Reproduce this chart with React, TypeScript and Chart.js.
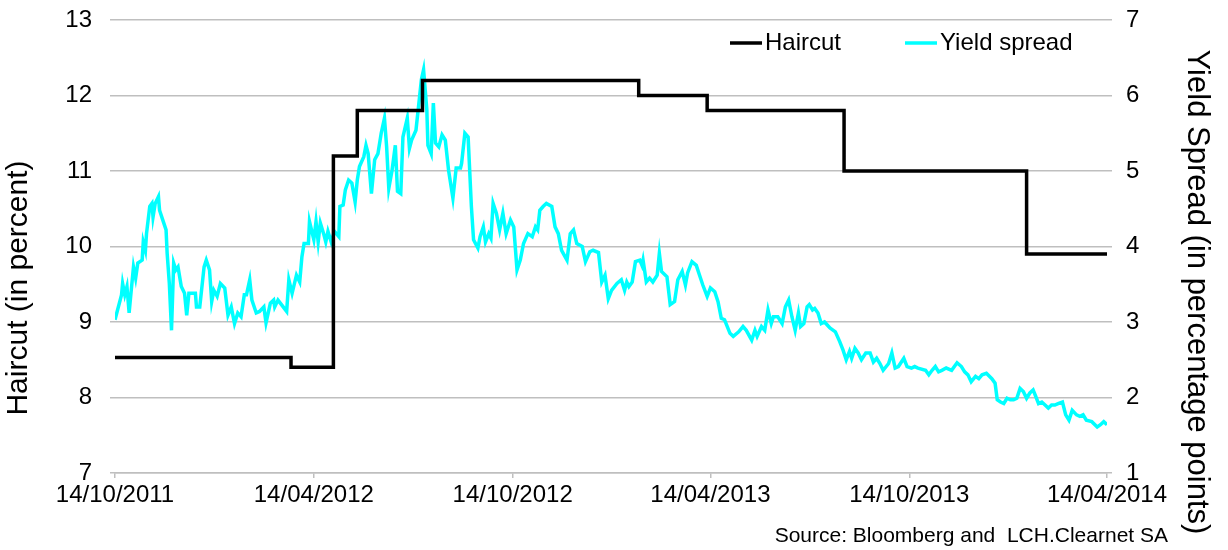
import React, { useEffect, useRef } from 'react';
import { Chart, registerables } from 'chart.js';

Chart.register(...registerables);

const FONT = '"Liberation Sans", Arial, Helvetica, sans-serif';

// x values: days since 14/10/2011
const tickDays = [0, 183, 366, 548, 731, 913];
const tickLabels = ['14/10/2011', '14/04/2012', '14/10/2012', '14/04/2013', '14/10/2013', '14/04/2014'];

const haircutDays = [0, 162, 201, 223, 283, 482, 545, 671, 839, 913];
const haircutValues = [8.53, 8.4, 11.2, 11.8, 12.2, 12.0, 11.8, 11.0, 9.9, 9.9];

const spreadDays = [
  0, 6, 7, 9, 11, 13, 17, 19, 21, 25,
  26, 28, 29, 32, 34, 35, 37, 40, 41, 44,
  47, 48, 50, 52, 54, 56, 58, 61, 64, 66,
  68, 74, 75, 78, 82, 84, 87, 89, 91, 94,
  97, 101, 104, 107, 110, 113, 116, 119, 121, 124,
  126, 130, 133, 137, 139, 143, 146, 147, 150, 158,
  160, 163, 167, 170, 172, 174, 178, 179, 183, 185,
  187, 189, 192, 194, 196, 199, 202, 206, 207, 210,
  212, 215, 218, 221, 223, 225, 229, 231, 233, 236,
  239, 242, 245, 248, 250, 252, 255, 258, 260, 263,
  265, 269, 271, 273, 277, 280, 282, 284, 287, 288,
  291, 293, 295, 298, 301, 304, 307, 311, 314, 318,
  319, 322, 325, 328, 330, 334, 336, 339, 341, 344,
  346, 348, 351, 354, 357, 360, 364, 367, 370, 373,
  376, 380, 384, 387, 389, 391, 394, 397, 402, 405,
  408, 411, 416, 419, 422, 425, 430, 433, 437, 440,
  445, 448, 451, 454, 457, 462, 466, 469, 471, 473,
  476, 479, 483, 485, 486, 489, 492, 495, 499, 501,
  503, 508, 511, 515, 518, 522, 525, 527, 531, 535,
  538, 541, 545, 548, 552, 555, 558, 561, 566, 569,
  574, 578, 581, 586, 589, 591, 595, 598, 601, 604,
  606, 610, 614, 617, 620, 623, 626, 629, 631, 634,
  637, 639, 642, 644, 647, 650, 653, 658, 663, 667,
  670, 673, 676, 678, 681, 684, 687, 691, 695, 698,
  701, 704, 707, 712, 715, 718, 721, 726, 729, 733,
  736, 739, 746, 749, 752, 755, 758, 761, 765, 770,
  775, 779, 782, 785, 788, 792, 795, 798, 802, 807,
  810, 812, 815, 818, 821, 824, 827, 830, 833, 836,
  839, 842, 845, 847, 850, 853, 856, 859, 862, 865,
  868, 872, 875, 878, 881, 885, 888, 891, 894, 899,
  904, 907, 910, 913,
];

const spreadValues = [
  3.03, 3.36, 3.51, 3.36, 3.47, 3.12, 3.73, 3.58, 3.78, 3.82,
  4.06, 3.95, 4.17, 4.53, 4.57, 4.39, 4.57, 4.66, 4.48, 4.35,
  4.22, 3.91, 3.51, 2.89, 3.78, 3.69, 3.73, 3.47, 3.38, 3.09,
  3.38, 3.38, 3.20, 3.20, 3.73, 3.82, 3.69, 3.27, 3.42, 3.34,
  3.51, 3.45, 3.09, 3.20, 2.98, 3.12, 3.07, 3.36, 3.36, 3.56,
  3.29, 3.12, 3.14, 3.20, 2.99, 3.25, 3.29, 3.20, 3.29, 3.14,
  3.56, 3.38, 3.62, 3.53, 3.86, 4.04, 4.04, 4.33, 4.09, 4.33,
  4.06, 4.31, 4.17, 4.06, 4.20, 4.06, 4.20, 4.13, 4.53, 4.55,
  4.75, 4.88, 4.84, 4.59, 4.88, 5.06, 5.19, 5.34, 5.23, 4.70,
  5.15, 5.23, 5.50, 5.70, 5.32, 4.77, 5.01, 5.34, 4.73, 4.70,
  5.45, 5.70, 5.30, 5.41, 5.54, 5.94, 6.21, 6.34, 5.81, 5.34,
  5.23, 5.90, 5.37, 5.32, 5.48, 5.41, 5.01, 4.64, 5.04, 5.04,
  5.10, 5.50, 5.45, 4.53, 4.09, 3.98, 4.13, 4.26, 4.06, 4.17,
  4.11, 4.57, 4.44, 4.22, 4.44, 4.17, 4.35, 4.26, 3.69, 3.82,
  4.04, 4.17, 4.13, 4.26, 4.22, 4.48, 4.53, 4.57, 4.53, 4.26,
  4.17, 3.95, 3.82, 4.17, 4.22, 4.04, 4.00, 3.80, 3.93, 3.95,
  3.92, 3.53, 3.62, 3.31, 3.42, 3.51, 3.56, 3.42, 3.53, 3.47,
  3.53, 3.80, 3.82, 3.75, 3.82, 3.53, 3.58, 3.53, 3.62, 3.91,
  3.67, 3.60, 3.23, 3.27, 3.56, 3.67, 3.49, 3.65, 3.80, 3.75,
  3.62, 3.49, 3.34, 3.45, 3.40, 3.27, 3.05, 3.03, 2.85, 2.81,
  2.87, 2.94, 2.89, 2.76, 2.89, 2.81, 2.94, 2.89, 3.16, 2.98,
  3.07, 3.07, 2.98, 3.20, 3.29, 3.07, 2.89, 3.12, 2.94, 2.98,
  3.20, 3.23, 3.16, 3.18, 3.12, 2.98, 3.00, 2.92, 2.87, 2.74,
  2.63, 2.50, 2.61, 2.52, 2.65, 2.59, 2.50, 2.59, 2.59, 2.47,
  2.52, 2.45, 2.36, 2.45, 2.59, 2.39, 2.41, 2.52, 2.41, 2.39,
  2.41, 2.39, 2.36, 2.30, 2.36, 2.41, 2.34, 2.36, 2.39, 2.36,
  2.46, 2.41, 2.34, 2.30, 2.21, 2.28, 2.25, 2.30, 2.32, 2.25,
  2.19, 1.97, 1.94, 1.92, 1.99, 1.97, 1.97, 1.99, 2.12, 2.08,
  1.99, 2.06, 2.10, 2.03, 1.92, 1.94, 1.90, 1.86, 1.90, 1.90,
  1.92, 1.94, 1.77, 1.70, 1.83, 1.77, 1.75, 1.77, 1.70, 1.68,
  1.61, 1.64, 1.68, 1.64,
];

const seriesNames = ['Haircut', 'Yield spread'];
const seriesColors = ['#000000', '#00FFFF'];
const leftTitle = 'Haircut (in percent)';
const rightTitle = 'Yield Spread (in percentage points)';
const sourceText = 'Source: Bloomberg and  LCH.Clearnet SA';

const GRID = '#bfbfbf';

const overlayPlugin = {
  id: 'overlay',
  afterDraw(chart: any) {
    const ctx = chart.ctx;
    ctx.save();
    // legend
    ctx.font = `24px ${FONT}`;
    ctx.textBaseline = 'middle';
    ctx.textAlign = 'left';
    const legendY = 43;
    const starts = [730, 905];
    chart.data.datasets.forEach((ds: any, i: number) => {
      const x0 = starts[i];
      ctx.strokeStyle = ds.borderColor;
      ctx.lineWidth = 3.5;
      ctx.beginPath();
      ctx.moveTo(x0, legendY);
      ctx.lineTo(x0 + 32, legendY);
      ctx.stroke();
      ctx.fillStyle = '#000';
      ctx.fillText(ds.label, x0 + 35, legendY);
    });
    // axis titles
    ctx.fillStyle = '#000';
    ctx.textAlign = 'center';
    ctx.textBaseline = 'middle';
    ctx.save();
    ctx.translate(19, 288);
    ctx.rotate(-Math.PI / 2);
    ctx.font = `30px ${FONT}`;
    ctx.fillText(leftTitle, 0, 0);
    ctx.restore();
    ctx.save();
    ctx.translate(1197, 292);
    ctx.rotate(Math.PI / 2);
    ctx.font = `31px ${FONT}`;
    ctx.fillText(rightTitle, 0, 0);
    ctx.restore();
    // source
    ctx.font = `21px ${FONT}`;
    ctx.textAlign = 'right';
    ctx.fillStyle = '#000';
    ctx.fillText(sourceText, 1168, 536);
    ctx.restore();
  },
};

export default function App() {
  const canvasRef = useRef<HTMLCanvasElement | null>(null);

  useEffect(() => {
    if (!canvasRef.current) return;
    const haircutData = haircutDays.map((d, i) => ({ x: d, y: haircutValues[i] }));
    const spreadData = spreadDays.map((d, i) => ({ x: d, y: spreadValues[i] }));

    const chart = new Chart(canvasRef.current, {
      type: 'line',
      data: {
        datasets: [
          {
            label: seriesNames[0],
            data: haircutData,
            borderColor: seriesColors[0],
            backgroundColor: seriesColors[0],
            borderWidth: 3.5,
            pointRadius: 0,
            stepped: 'before',
            yAxisID: 'y',
          },
          {
            label: seriesNames[1],
            data: spreadData,
            borderColor: seriesColors[1],
            backgroundColor: seriesColors[1],
            borderWidth: 3.5,
            pointRadius: 0,
            tension: 0,
            yAxisID: 'y1',
          },
        ],
      },
      options: {
        responsive: false,
        animation: false,
        layout: { padding: { left: 0, right: 0, top: 20, bottom: 0 } },
        plugins: {
          legend: { display: false },
          tooltip: { enabled: false },
        },
        scales: {
          x: {
            type: 'linear',
            min: tickDays[0],
            max: tickDays[tickDays.length - 1],
            afterBuildTicks: (s: any) => {
              s.ticks = tickDays.map((v) => ({ value: v }));
            },
            afterFit: (s: any) => {
              s.height = 77;
              s.paddingLeft = 0;
              s.paddingRight = 0;
            },
            ticks: {
              autoSkip: false,
              maxRotation: 0,
              minRotation: 0,
              padding: 3,
              color: '#000',
              font: { family: FONT, size: 24 },
              callback: (v: any) => {
                const idx = tickDays.indexOf(Number(v));
                return idx >= 0 ? tickLabels[idx] : '';
              },
            },
            grid: { drawOnChartArea: false, drawTicks: true, tickLength: 5, color: GRID, lineWidth: 1.5 },
            border: { display: true, color: GRID, width: 1.5 },
          },
          y: {
            position: 'left',
            min: 7,
            max: 13,
            afterFit: (s: any) => {
              s.width = 115;
              s.paddingTop = 0;
              s.paddingBottom = 0;
            },
            ticks: {
              stepSize: 1,
              padding: 18,
              color: '#000',
              font: { family: FONT, size: 24 },
            },
            grid: { color: GRID, lineWidth: 1.5, tickLength: 5 },
            border: { display: false },
          },
          y1: {
            position: 'right',
            min: 1,
            max: 7,
            afterFit: (s: any) => {
              s.width = 121;
              s.paddingTop = 0;
              s.paddingBottom = 0;
            },
            ticks: {
              stepSize: 1,
              padding: 14,
              color: '#000',
              font: { family: FONT, size: 24 },
            },
            grid: { drawOnChartArea: false, color: GRID, lineWidth: 1.5, tickLength: 5 },
            border: { display: false },
          },
        },
      },
      plugins: [overlayPlugin],
    } as any);

    return () => {
      chart.destroy();
    };
  }, []);

  return (
    <div style={{ position: 'absolute', left: 0, top: 0, width: 1228, height: 550, background: '#fff' }}>
      <canvas ref={canvasRef} width={1228} height={550} style={{ display: 'block' }} />
    </div>
  );
}
